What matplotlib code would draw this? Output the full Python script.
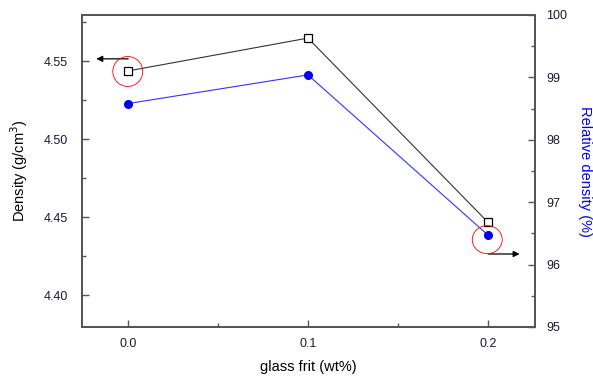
import matplotlib
matplotlib.use("Agg")
import matplotlib.pyplot as plt
from matplotlib.patches import Ellipse

plt.rcParams['font.family'] = ['Liberation Sans', 'DejaVu Sans']

# data
frit = [0.0, 0.1, 0.2]
density = [4.5436, 4.5647, 4.4465]
rel_density = [98.58, 99.04, 96.47]

fig = plt.figure(figsize=(5.93, 3.77), dpi=100)
ax = fig.add_axes([82/593, 1-327/377, (535-82)/593, (327-15)/377])
ax2 = ax.twinx()

spine_col = '#555555'
tick_col = '#1a1a33'

ax.plot(frit, density, '-', color='#333333', lw=0.8, marker='s', ms=5.5,
        mfc='white', mec='black', mew=0.9, zorder=3)
ax2.plot(frit, rel_density, '-', color='#3333ff', lw=0.8, marker='o', ms=5.5,
         mfc='#0000ee', mec='#0000ee', zorder=3)

ax.set_xlim(-0.0254, 0.226)
ax.set_ylim(4.3795, 4.5795)
ax2.set_ylim(95, 100)

ax.set_xticks([0.0, 0.1, 0.2])
ax.set_xticklabels(['0.0', '0.1', '0.2'])
ax.set_xticks([0.05, 0.15], minor=True)
ax.set_yticks([4.40, 4.45, 4.50, 4.55])
ax.set_yticklabels(['4.40', '4.45', '4.50', '4.55'])
ax.set_yticks([4.425, 4.475, 4.525, 4.575], minor=True)
ax2.set_yticks([95, 96, 97, 98, 99, 100])
ax2.set_yticks([95.5, 96.5, 97.5, 98.5, 99.5], minor=True)

for a in (ax, ax2):
    for s in a.spines.values():
        s.set_color(spine_col)
        s.set_linewidth(1.3)
    a.tick_params(which='major', direction='in', length=5, width=1,
                  color=spine_col, labelcolor=tick_col, labelsize=9)
    a.tick_params(which='minor', direction='in', length=3, width=1,
                  color=spine_col)
ax.tick_params(axis='x', pad=8)
ax.tick_params(axis='y', pad=10)
ax2.tick_params(axis='y', pad=8)
ax.tick_params(top=False, which='both')

ax.set_xlabel('glass frit (wt%)', fontsize=10.5, labelpad=7)
ax.set_ylabel('Density (g/cm$^3$)', fontsize=10.5, labelpad=10)
ax2.set_ylabel('Relative density (%)', fontsize=10.5, color='#0000ee',
               rotation=270, labelpad=18)

# red circles and arrows pointing to the axes
c1 = Ellipse((0.0, 4.5433), 0.0166, 0.0192, fill=False, ec='red', lw=0.6,
             transform=ax.transData, zorder=4)
ax.add_patch(c1)
ax.annotate('', xy=(-0.019, 4.5514), xytext=(0.0018, 4.5514),
            arrowprops=dict(arrowstyle='-|>', color='black', lw=0.9,
                            mutation_scale=9))
c2 = Ellipse((0.1995, 96.40), 0.0166, 0.448, fill=False, ec='red', lw=0.6,
             transform=ax2.transData, zorder=4)
ax2.add_patch(c2)
ax2.annotate('', xy=(0.219, 96.17), xytext=(0.1985, 96.17),
             arrowprops=dict(arrowstyle='-|>', color='black', lw=0.9,
                             mutation_scale=9))

fig.savefig('out.png', dpi=100)
